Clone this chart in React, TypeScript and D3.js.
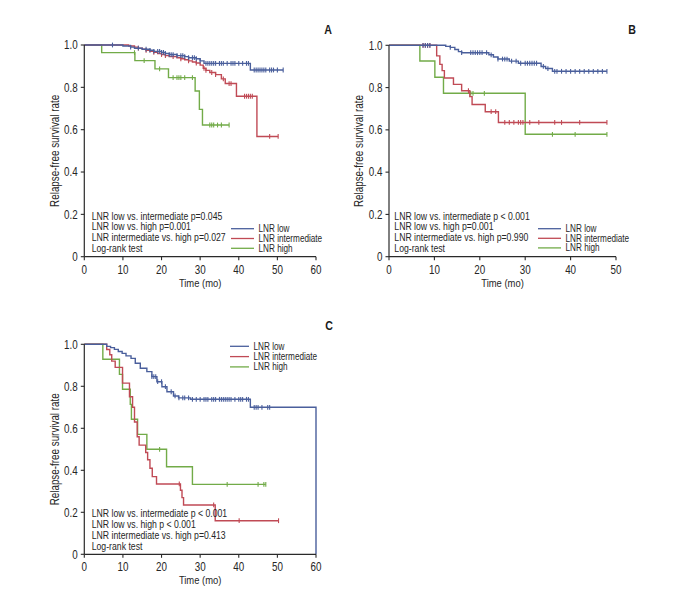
import React from "react";
import * as d3 from "d3";

// ---------- DATA ----------
const yTicks = [0, 0.2, 0.4, 0.6, 0.8, 1.0];
const yTickLabels = ["0", "0.2", "0.4", "0.6", "0.8", "1.0"];
const xTicksA = [0, 10, 20, 30, 40, 50, 60];
const xTicksB = [0, 10, 20, 30, 40, 50];
const xTicksC = [0, 10, 20, 30, 40, 50, 60];
const seriesNames = ["LNR low", "LNR intermediate", "LNR high"];

// Panel A — steps: [time, survival after event]
const aLowSteps: [number, number][] = [
  [10, 0.995], [12, 0.99], [13, 0.985], [15, 0.98], [17, 0.975], [18, 0.97], [20, 0.965],
  [21, 0.96], [22, 0.955], [24, 0.95], [26, 0.945], [27, 0.94], [29, 0.935], [30, 0.925],
  [31, 0.913], [43, 0.882],
];
const aLowEnd = 51.5;
const aLowCensor = [7.3, 12, 14, 16, 17, 18, 19, 19.5, 20, 20.5, 21, 22, 22.5, 23, 24, 25, 25.5,
  26, 27, 28, 28.5, 29, 30, 31.5, 32, 32.5, 33, 33.5, 34, 35, 35.5, 36, 37, 38, 38.5, 39, 40,
  41, 42, 42.5, 44, 44.5, 45, 45.5, 46, 46.5, 47, 48, 48.5, 49, 50, 51.5];

const aIntSteps: [number, number][] = [
  [11.5, 0.995], [13, 0.99], [14, 0.985], [15, 0.98], [16, 0.975], [17, 0.97], [18, 0.965],
  [19, 0.96], [20, 0.955], [21, 0.95], [22, 0.945], [24, 0.94], [25, 0.935], [26, 0.93],
  [27, 0.925], [28, 0.92], [29, 0.915], [30, 0.905], [30.8, 0.89], [31.5, 0.88], [32.5, 0.87],
  [34, 0.86], [35.5, 0.84], [36.5, 0.818], [39.4, 0.758], [44.7, 0.568],
];
const aIntEnd = 50.2;
const aIntCensor = [14, 16, 18, 20, 21, 23, 25, 27, 29, 31, 31.5, 33, 34, 36, 37.5, 38,
  41.5, 42, 42.5, 43, 43.5, 48, 50.2];

const aHighSteps: [number, number][] = [
  [4.5, 0.964], [13.1, 0.926], [18.3, 0.887], [21.8, 0.846], [28.7, 0.783], [29.8, 0.696],
  [30.6, 0.622],
];
const aHighEnd = 37.5;
const aHighCensor = [13, 15.5, 19.5, 23, 24, 24.5, 25, 26, 28, 32.5, 33, 33.5, 34.5, 35.5, 37.5];

// Panel B
const bLowSteps: [number, number][] = [
  [12.5, 0.995], [13.5, 0.99], [14.5, 0.98], [15.3, 0.97], [16, 0.965], [22, 0.955],
  [23, 0.945], [24, 0.935], [26.5, 0.925], [28.5, 0.915], [33.5, 0.9], [34.5, 0.89], [36, 0.877],
];
const bLowEnd = 48;
const bLowCensor = [7.5, 8, 8.5, 9, 13.5, 16, 18, 18.5, 19, 19.5, 20, 20.5, 21.5, 22.5, 24, 25,
  25.5, 26, 27, 28, 29, 30, 30.5, 31, 31.5, 32, 32.5, 34, 35, 36.5, 37, 38, 39, 40, 41, 42, 43,
  44, 45, 46, 47, 48];

const bIntSteps: [number, number][] = [
  [10.5, 0.95], [11.2, 0.91], [11.7, 0.88], [12.2, 0.845], [14.2, 0.815], [16, 0.785],
  [17.8, 0.757], [18.3, 0.72], [21.2, 0.686], [24.1, 0.635],
];
const bIntEnd = 48;
const bIntCensor = [7.5, 8, 8.5, 9, 17.5, 22.5, 23.5, 25.5, 26.5, 27.5, 28.5, 29, 29.5, 31, 33,
  36.5, 38, 42, 48];

const bHighSteps: [number, number][] = [
  [6.8, 0.926], [10.1, 0.849], [12, 0.773], [30, 0.579],
];
const bHighEnd = 48;
const bHighCensor = [18, 18.5, 21, 36, 41, 48];

// Panel C
const cLowSteps: [number, number][] = [
  [5.8, 0.99], [6.8, 0.984], [7.8, 0.976], [8.8, 0.966], [9.8, 0.957], [10.8, 0.945],
  [12.1, 0.933], [13.2, 0.91], [14.5, 0.886], [16.2, 0.87], [17.5, 0.846], [18.8, 0.822],
  [20.1, 0.798], [21.4, 0.774], [23.1, 0.754], [24.4, 0.745], [27.5, 0.738], [43, 0.7], [60, 0],
];
const cLowEnd = 60;
const cLowCensor = [17.5, 18, 18.5, 19, 20, 21, 22.5, 23.5, 24.5, 25.5, 26, 27, 28, 29, 30, 31,
  31.5, 32, 33, 33.5, 34, 35, 35.5, 36, 36.5, 37, 37.5, 38, 39, 40, 40.5, 41, 42, 42.5, 44, 44.5,
  45, 46, 47.5, 48];

const cIntSteps: [number, number][] = [
  [5.8, 0.975], [6.6, 0.95], [7.1, 0.92], [8.0, 0.89], [9.9, 0.815], [11.7, 0.75], [12.5, 0.7],
  [13.0, 0.63], [13.7, 0.56], [14.2, 0.52], [15.9, 0.485], [16.4, 0.45], [17.0, 0.41],
  [17.6, 0.37], [18.7, 0.335], [24.9, 0.305], [25.3, 0.27], [25.7, 0.235], [33.9, 0.16],
];
const cIntEnd = 50.4;
const cIntCensor = [24.6, 33.5, 40.1, 50.3];

const cHighSteps: [number, number][] = [
  [4.8, 0.929], [9.1, 0.857], [9.9, 0.786], [11.9, 0.714], [12.2, 0.643], [13.8, 0.571],
  [16.2, 0.5], [21.3, 0.417], [28, 0.333],
];
const cHighEnd = 47;
const cHighCensor = [19.5, 37, 45, 46.5, 47];

const pValuesA = [
  "LNR low vs. intermediate p=0.045",
  "LNR low vs. high p=0.001",
  "LNR intermediate vs. high p=0.027",
  "Log-rank test",
];
const pValuesB = [
  "LNR low vs. intermediate p < 0.001",
  "LNR low vs. high p=0.001",
  "LNR intermediate vs. high p=0.990",
  "Log-rank test",
];
const pValuesC = [
  "LNR low vs. intermediate p < 0.001",
  "LNR low vs. high p < 0.001",
  "LNR intermediate vs. high p=0.413",
  "Log-rank test",
];

// ---------- STYLE ----------
const COLORS = ["#4a5f9c", "#c04a55", "#72ab48"];
const FONT = "'Liberation Sans', Arial, sans-serif";
const AXIS = "#2a2a2a";
const TEXT = "#262626";
const NARROW = 0.82;

type Series = { steps: [number, number][]; end: number; censor: number[] };

function survAt(steps: [number, number][], t: number) {
  let s = 1;
  for (const [st, sv] of steps) {
    if (st <= t) s = sv;
  }
  return s;
}

// condensed text: Liberation Sans squeezed horizontally
function NText(props: { x: number; y: number; size: number; anchor?: string; rotate?: number; weight?: string; fill?: string; children: React.ReactNode }) {
  const { x, y, size, anchor = "start", rotate = 0, weight = "normal", fill = TEXT } = props;
  return (
    <g transform={`translate(${x},${y}) rotate(${rotate}) scale(${NARROW},1)`}>
      <text x={0} y={0} dy="0.35em" textAnchor={anchor as any} fontSize={size} fontWeight={weight} fill={fill} fontFamily={FONT}>
        {props.children}
      </text>
    </g>
  );
}

type PanelProps = {
  label: string;
  x0: number; x1: number; yTop: number; yBot: number;
  xMax: number; xTicks: number[];
  series: Series[];
  pText: string[]; pX: number; pY: number; pStep: number;
  legX: number; legLineW: number; legY: number; legStep: number;
  labelX: number; labelY: number;
};

function Panel(p: PanelProps) {
  const x = d3.scaleLinear().domain([0, p.xMax]).range([p.x0, p.x1]);
  const y = d3.scaleLinear().domain([0, 1]).range([p.yBot, p.yTop]);
  const line = d3.line<[number, number]>().x(d => x(d[0])).y(d => y(d[1])).curve(d3.curveStepAfter);
  return (
    <g>
      {p.series.map((s, i) => {
        const pts: [number, number][] = [[0, 1], ...s.steps];
        const last = pts[pts.length - 1];
        if (last[0] < s.end) pts.push([s.end, last[1]]);
        return (
          <g key={i}>
            <path d={line(pts) || ""} fill="none" stroke={COLORS[i]} strokeWidth={1.4} />
            {s.censor.map((c, j) => {
              const cx = x(c);
              const cy = y(survAt(s.steps, c));
              return <line key={j} x1={cx} x2={cx} y1={cy - 2.4} y2={cy + 2.4} stroke={COLORS[i]} strokeWidth={1.1} />;
            })}
          </g>
        );
      }).reverse()}
      {/* y axis */}
      <line x1={p.x0} x2={p.x0} y1={y(0)} y2={y(1)} stroke={AXIS} strokeWidth={1.2} />
      {yTicks.map((t, i) => (
        <g key={i}>
          <line x1={p.x0 - 3.5} x2={p.x0} y1={y(t)} y2={y(t)} stroke={AXIS} strokeWidth={1.1} />
          <NText x={p.x0 - 6.5} y={y(t)} size={12} anchor="end">{yTickLabels[i]}</NText>
        </g>
      ))}
      {/* x axis */}
      <line x1={x(0)} x2={x(p.xMax)} y1={p.yBot} y2={p.yBot} stroke={AXIS} strokeWidth={1.2} />
      {p.xTicks.map((t, i) => (
        <g key={i}>
          <line x1={x(t)} x2={x(t)} y1={p.yBot} y2={p.yBot + 3.5} stroke={AXIS} strokeWidth={1.1} />
          <NText x={x(t)} y={p.yBot + 12.8} size={12} anchor="middle">{t}</NText>
        </g>
      ))}
      <NText x={(p.x0 + p.x1) / 2} y={p.yBot + 25.8} size={11.5} anchor="middle">Time (mo)</NText>
      <NText x={p.x0 - 30} y={(p.yTop + p.yBot) / 2} size={12} anchor="middle" rotate={-90}>Relapse-free survival rate</NText>
      {/* p-values */}
      {p.pText.map((t, i) => (
        <NText key={i} x={p.pX} y={p.pY + i * p.pStep} size={10.6}>{t}</NText>
      ))}
      {/* legend */}
      {seriesNames.map((n, i) => (
        <g key={i}>
          <line x1={p.legX} x2={p.legX + p.legLineW} y1={p.legY + i * p.legStep} y2={p.legY + i * p.legStep} stroke={COLORS[i]} strokeWidth={1.3} />
          <NText x={p.legX + p.legLineW + 4.5} y={p.legY + i * p.legStep} size={10}>{n}</NText>
        </g>
      ))}
      <NText x={p.labelX} y={p.labelY} size={13} anchor="middle" weight="bold" fill="#1a1a1a">{p.label}</NText>
    </g>
  );
}

export default function App() {
  const A: Series[] = [
    { steps: aLowSteps, end: aLowEnd, censor: aLowCensor },
    { steps: aIntSteps, end: aIntEnd, censor: aIntCensor },
    { steps: aHighSteps, end: aHighEnd, censor: aHighCensor },
  ];
  const B: Series[] = [
    { steps: bLowSteps, end: bLowEnd, censor: bLowCensor },
    { steps: bIntSteps, end: bIntEnd, censor: bIntCensor },
    { steps: bHighSteps, end: bHighEnd, censor: bHighCensor },
  ];
  const C: Series[] = [
    { steps: cLowSteps, end: cLowEnd, censor: cLowCensor },
    { steps: cIntSteps, end: cIntEnd, censor: cIntCensor },
    { steps: cHighSteps, end: cHighEnd, censor: cHighCensor },
  ];
  return (
    <svg width={686} height={597} style={{ position: "absolute", left: 0, top: 0, background: "#fff" }}>
      <rect width={686} height={597} fill="#fff" />
      <Panel label="A" x0={84.3} x1={316} yTop={45} yBot={256.7} xMax={60} xTicks={xTicksA} series={A}
        pText={pValuesA} pX={91.7} pY={216} pStep={10.7}
        legX={231} legLineW={23} legY={228.7} legStep={9.8} labelX={328} labelY={29} />
      <Panel label="B" x0={389} x1={616} yTop={45.3} yBot={256.7} xMax={50} xTicks={xTicksB} series={B}
        pText={pValuesB} pX={394.3} pY={216} pStep={10.7}
        legX={538} legLineW={23} legY={228.7} legStep={9.6} labelX={632} labelY={29} />
      <Panel label="C" x0={84.3} x1={316} yTop={344.3} yBot={554.3} xMax={60} xTicks={xTicksC} series={C}
        pText={pValuesC} pX={91.7} pY={513.3} pStep={10.9}
        legX={230} legLineW={19} legY={346.3} legStep={10.3} labelX={329} labelY={325} />
    </svg>
  );
}
